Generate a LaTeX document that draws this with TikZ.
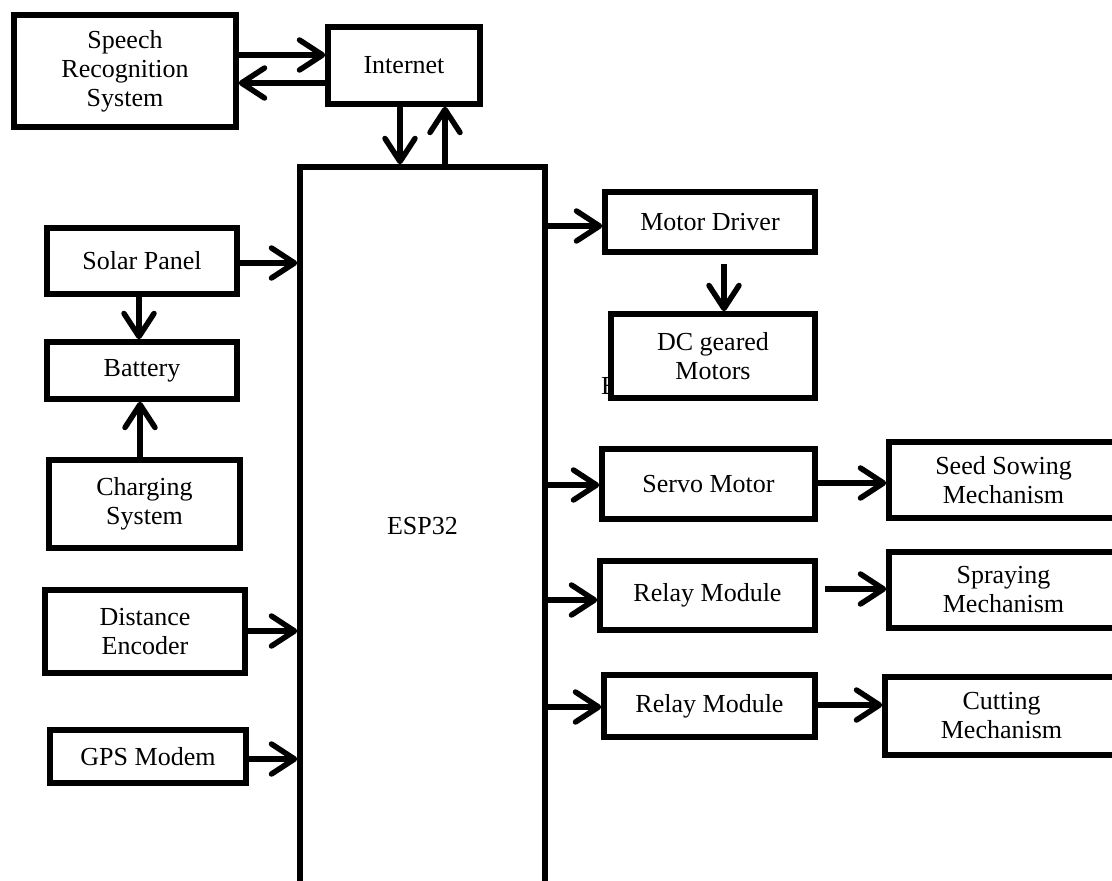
\documentclass[tikz,border=0pt]{standalone}
\usepackage{fontspec}
\setmainfont{Liberation Serif}
\usetikzlibrary{arrows.meta}
\tikzset{
  blk/.style={draw, line width=5.5pt, fill=white, align=center, inner sep=0pt,
    font=\fontsize{26}{29}\selectfont},
  arr/.style={line width=5.5pt, -{Straight Barb[length=23pt,width=30pt,round]}},
  txt/.style={inner sep=0pt, font=\fontsize{26}{29}\selectfont}
}
\begin{document}
\begin{tikzpicture}[x=1pt,y=-1pt]
\useasboundingbox (0,0) rectangle (1112,881);
\clip (0,0) rectangle (1112,881);
% stray letter partly hidden behind the DC motors box
\node[txt, anchor=base west] (stray) at (601,394) {E};

\node[blk, minimum width=222pt, minimum height=112pt] (speech) at (125,71) {Speech\\Recognition\\System};
\node[blk, minimum width=152pt, minimum height=77pt] (internet) at (404,65.5) {Internet};
\node[blk, minimum width=245pt, minimum height=719pt] (esp) at (422.5,526.5) {ESP32};

\node[blk, minimum width=190pt, minimum height=66pt] (solar) at (142,261) {Solar Panel};
\node[blk, minimum width=190pt, minimum height=57pt] (battery) at (142,370.5) {Battery};
\node[blk, minimum width=191pt, minimum height=88pt] (charging) at (144.5,504) {Charging\\System};
\node[blk, minimum width=200pt, minimum height=83pt] (distance) at (145,631.5) {Distance\\Encoder};
\node[blk, minimum width=196pt, minimum height=53pt] (gps) at (148,756.5) {GPS Modem};

\node[blk, minimum width=210pt, minimum height=60pt] (motor) at (710,222) {Motor Driver};
\node[blk, minimum width=204pt, minimum height=84pt] (dc) at (713,356) {DC geared\\Motors};
\node[blk, minimum width=213pt, minimum height=70pt] (servo) at (708.5,484) {Servo Motor};
\node[blk, minimum width=215pt, minimum height=69pt] (relayA) at (707.5,595.5) {Relay Module};
\node[blk, minimum width=211pt, minimum height=62pt] (relayB) at (709.5,706) {Relay Module};

\node[blk, minimum width=229pt, minimum height=76pt] (seed) at (1003.5,480) {Seed Sowing\\Mechanism};
\node[blk, minimum width=229pt, minimum height=76pt] (spray) at (1003.5,590) {Spraying\\Mechanism};
\node[blk, minimum width=233pt, minimum height=78pt] (cut) at (1001.5,716) {Cutting\\Mechanism};

% connectors
\draw[arr] (speech.east |- 0,55) -- (internet.west |- 0,55);
\draw[arr] (internet.west |- 0,83) -- (speech.east |- 0,83);
\draw[arr] (internet.south -| 400,0) -- (esp.north -| 400,0);
\draw[arr] (esp.north -| 445,0) -- (internet.south -| 445,0);

\draw[arr] (solar.east |- 0,263) -- (esp.west |- 0,263);
\draw[arr] (solar.south -| 139,0) -- (battery.north -| 139,0);
\draw[arr] (charging.north -| 140,0) -- (battery.south -| 140,0);
\draw[arr] (distance.east |- 0,631) -- (esp.west |- 0,631);
\draw[arr] (gps.east |- 0,759) -- (esp.west |- 0,759);

\draw[arr] (esp.east |- 0,226) -- (motor.west |- 0,226);
\draw[arr] ([yshift=-9pt]motor.south -| 724,0) -- (dc.north -| 724,0);
\draw[arr] (esp.east |- 0,485) -- (servo.west |- 0,485);
\draw[arr] (esp.east |- 0,600) -- (relayA.west |- 0,600);
\draw[arr] (esp.east |- 0,707) -- (relayB.west |- 0,707);

\draw[arr] (servo.east |- 0,483) -- (seed.west |- 0,483);
\draw[arr] ([xshift=7pt]relayA.east |- 0,589) -- (spray.west |- 0,589);
\draw[arr] (relayB.east |- 0,705) -- (cut.west |- 0,705);
\end{tikzpicture}
\end{document}
